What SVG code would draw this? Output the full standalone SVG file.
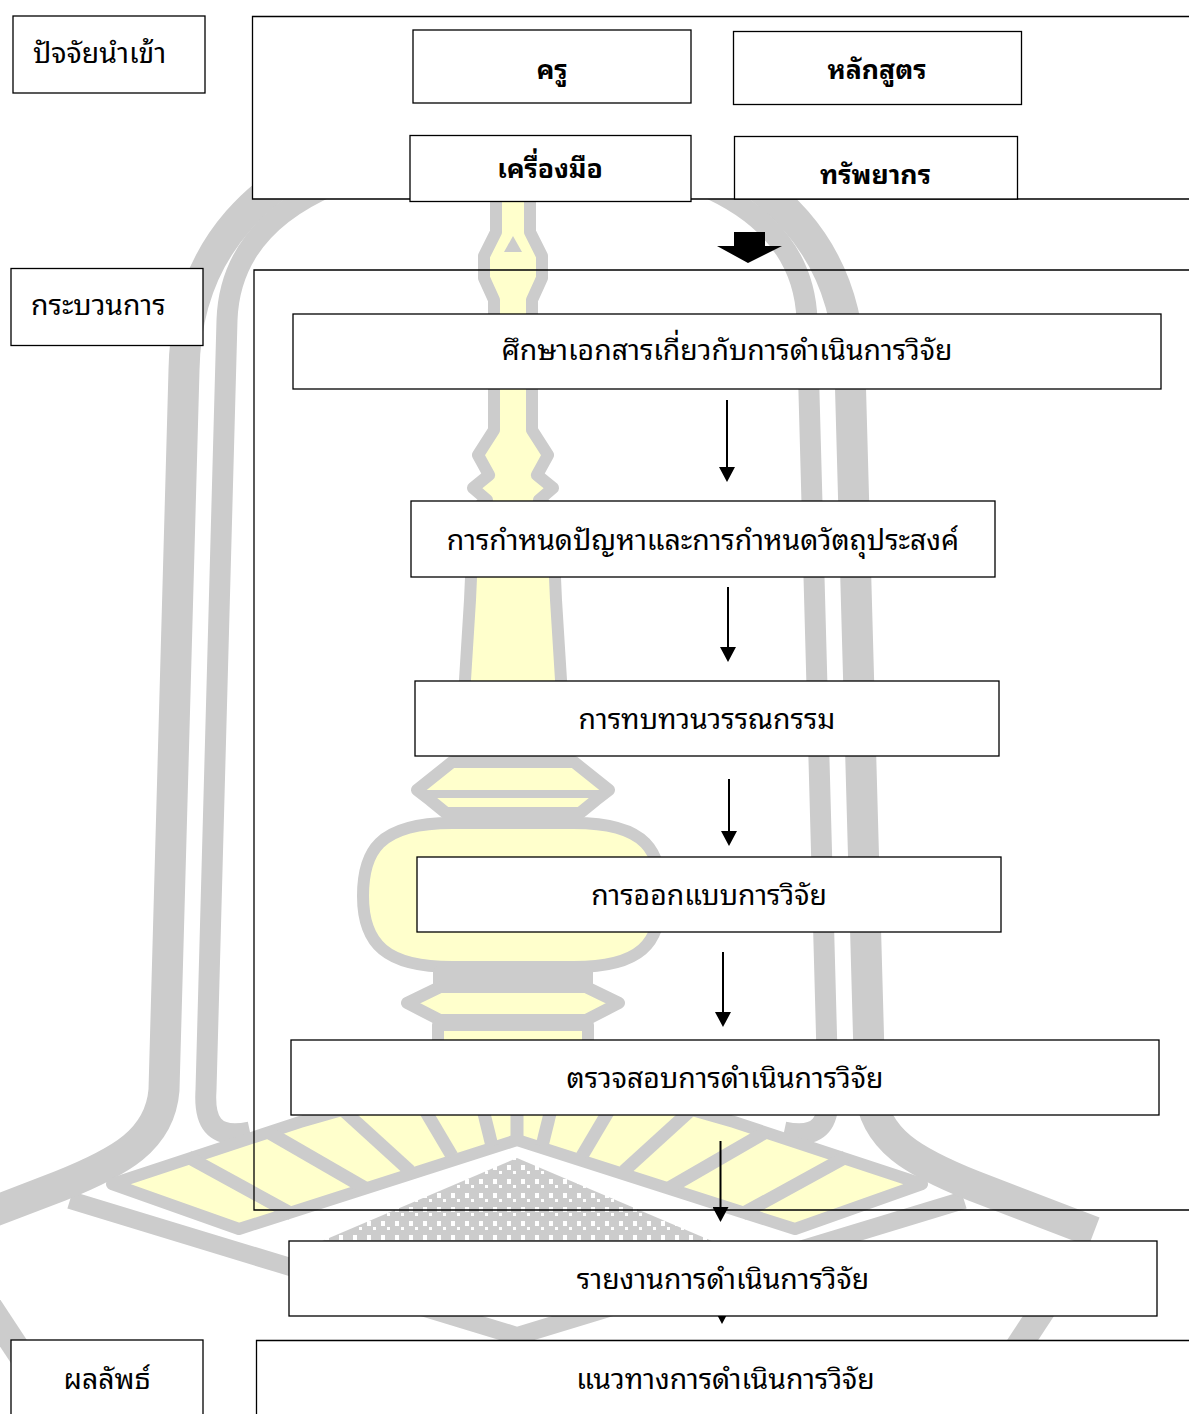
<svg xmlns="http://www.w3.org/2000/svg" width="1189" height="1414" viewBox="0 0 1189 1414">
<style>
.box{fill:#fff;stroke:#000;stroke-width:1.3}
.open{fill:none;stroke:#000;stroke-width:1.3}
.t{font-family:"Noto Sans Thai Looped","Leelawadee UI","Tahoma","Loma","Waree","Garuda","Umpush","Sawasdee","Noto Serif Thai","Noto Sans Thai","Noto Sans",sans-serif;font-size:28.4px;fill:#000;text-anchor:middle}
.b{font-weight:bold;font-size:26.6px}
.s{text-anchor:start}
.band{fill:none;stroke:#cccccc;stroke-linecap:butt;stroke-linejoin:round}
.yl{fill:#ffffcc;stroke:#cccccc;stroke-width:12;stroke-linejoin:round}
.ray{stroke:#cccccc;stroke-width:13}
.conn{stroke:#000;stroke-width:2;fill:none}
</style>
<defs>
<marker id="ah" viewBox="0 0 15 16" markerUnits="userSpaceOnUse" markerWidth="15" markerHeight="16" refX="0" refY="8" orient="auto">
<path d="M0,0 L15,8 L0,16 Z" fill="#000"/>
</marker>
<pattern id="pix" width="14" height="14" patternUnits="userSpaceOnUse">
<rect width="14" height="14" fill="#cccccc"/>
<rect x="3" y="3" width="4" height="5" fill="#fff"/>
<rect x="9" y="9" width="3" height="3" fill="#fff"/>
</pattern>
</defs>
<rect width="1189" height="1414" fill="#fff"/>

<g id="watermark">
<path class="band" stroke-width="26" d="M-40,1262 L60,1414"/>
<path class="band" stroke-width="26" d="M1074,1262 L974,1414"/>
<path class="band" stroke-width="18" d="M70,1200 L517,1336 L964,1200"/>
<path class="band" stroke-width="31" d="M-60,1232 L60,1186 C120,1162 160,1140 164,1090 L184,370 C186,250 260,170 380,140 L654,140 C774,170 848,250 850,370 L870,1090 C874,1140 914,1162 974,1186 L1094,1232"/>
<path class="band" stroke-width="21" d="M250,1132 C212,1140 204,1120 206,1090 L227,320 C229,262 262,215 332,185 L702,185 C772,215 805,262 807,320 L828,1090 C830,1120 822,1140 784,1132"/>
<polygon points="322,1241 517,1158 712,1241" fill="url(#pix)"/>
<polygon class="yl" stroke-width="14" points="112,1184 300,1122 517,1060 734,1122 922,1184 795,1229 517,1140 239,1229"/>
<line class="ray" x1="188" y1="1157" x2="292" y2="1214"/>
<line class="ray" x1="268" y1="1132" x2="365" y2="1188"/>
<line class="ray" x1="343" y1="1110" x2="410" y2="1171"/>
<line class="ray" x1="413" y1="1090" x2="452" y2="1156"/>
<line class="ray" x1="474" y1="1073" x2="492" y2="1146"/>
<line class="ray" x1="517" y1="1060" x2="517" y2="1140"/>
<line class="ray" x1="846" y1="1157" x2="742" y2="1214"/>
<line class="ray" x1="766" y1="1132" x2="669" y2="1188"/>
<line class="ray" x1="691" y1="1110" x2="624" y2="1171"/>
<line class="ray" x1="621" y1="1090" x2="582" y2="1156"/>
<line class="ray" x1="560" y1="1073" x2="542" y2="1146"/>
<path class="yl" d="M496,185 L496,232 L484,256 L484,278 L494,300 L494,430 L478,455 L489,475 L473,488 L487,500 L474,510 L470,600 L465,680 L463,762 L563,762 L561,680 L556,600 L552,510 L539,500 L553,488 L537,475 L548,455 L532,430 L532,300 L542,278 L542,256 L530,232 L530,185 Z"/>
<path d="M513,236 L522,252 L504,252 Z" fill="#cccccc"/>
<path class="yl" d="M452,762 L574,762 L609,790 L596,800 L580,813 L446,813 L430,800 L417,790 Z"/>
<line x1="420" y1="794" x2="606" y2="794" stroke="#cccccc" stroke-width="8"/>
<path class="yl" stroke-width="13" d="M452,823 L574,823 C648,823 661,852 661,896 C661,944 640,967 574,967 L452,967 C386,967 363,944 363,896 C363,852 378,823 452,823 Z"/>
<rect class="yl" x="439" y="972" width="148" height="12"/>
<path class="yl" d="M440,987 L586,987 L619,1003 L586,1020 L440,1020 L407,1003 Z"/>
<rect class="yl" x="438" y="1025" width="150" height="22"/>
</g>

<g id="process-frame">
<path class="open" d="M1195,270 L254,270 L254,1210 L1195,1210"/>
</g>

<g id="connectors">
<polygon points="734,232 765,232 765,246 782,246 748,263 717,246 734,246" fill="#000"/>
<line class="conn" x1="727" y1="400" x2="727" y2="467" marker-end="url(#ah)"/>
<line class="conn" x1="728" y1="587" x2="728" y2="647" marker-end="url(#ah)"/>
<line class="conn" x1="729" y1="779" x2="729" y2="831" marker-end="url(#ah)"/>
<line class="conn" x1="723" y1="952" x2="723" y2="1012" marker-end="url(#ah)"/>
<line class="conn" x1="720.5" y1="1141" x2="720.5" y2="1207" marker-end="url(#ah)"/>
<line class="conn" x1="722" y1="1290" x2="722" y2="1309" marker-end="url(#ah)"/>
</g>

<g id="input-frame">
<path class="box" d="M1195,16.5 L252.5,16.5 L252.5,199 L1195,199"/>
</g>
<g id="n-teacher"><rect class="box" x="413" y="30" width="278" height="73"/><text class="t b" x="552" y="79">ครู</text></g>
<g id="n-curriculum"><rect class="box" x="733.5" y="31.5" width="288" height="73"/><text class="t b" x="877" y="79">หลักสูตร</text></g>
<g id="n-tools"><rect class="box" x="410" y="135.5" width="281" height="66"/><text class="t b" x="550" y="178">เครื่องมือ</text></g>
<g id="n-resources"><rect class="box" x="734.5" y="136.5" width="283" height="62.5"/><text class="t b" x="875.5" y="184">ทรัพยากร</text></g>

<g id="l-input"><rect class="box" x="13" y="16" width="192" height="77"/><text class="t s" x="33" y="63">ปัจจัยนำเข้า</text></g>
<g id="l-process"><rect class="box" x="11" y="268.5" width="192" height="77"/><text class="t s" x="31" y="315">กระบวนการ</text></g>
<g id="l-output"><rect class="box" x="11" y="1340" width="192" height="90"/><text class="t" x="107" y="1389">ผลลัพธ์</text></g>

<g id="p1"><rect class="box" x="293" y="314" width="868" height="75"/><text class="t" x="727" y="360">ศึกษาเอกสารเกี่ยวกับการดำเนินการวิจัย</text></g>
<g id="p2"><rect class="box" x="411" y="501" width="584" height="76"/><text class="t" x="703" y="550">การกำหนดปัญหาและการกำหนดวัตถุประสงค์</text></g>
<g id="p3"><rect class="box" x="415" y="681" width="584" height="75"/><text class="t" x="707" y="729">การทบทวนวรรณกรรม</text></g>
<g id="p4"><rect class="box" x="417" y="857" width="584" height="75"/><text class="t" x="709" y="905">การออกแบบการวิจัย</text></g>
<g id="p5"><rect class="box" x="291" y="1040" width="868" height="75"/><text class="t" x="725" y="1088">ตรวจสอบการดำเนินการวิจัย</text></g>
<g id="p6"><rect class="box" x="289" y="1241" width="868" height="75"/><text class="t" x="723" y="1289">รายงานการดำเนินการวิจัย</text></g>

<g id="output-frame">
<path class="box" d="M1195,1340.5 L256.5,1340.5 L256.5,1420 L1195,1420"/>
<text class="t" x="725.5" y="1389">แนวทางการดำเนินการวิจัย</text>
</g>
</svg>
